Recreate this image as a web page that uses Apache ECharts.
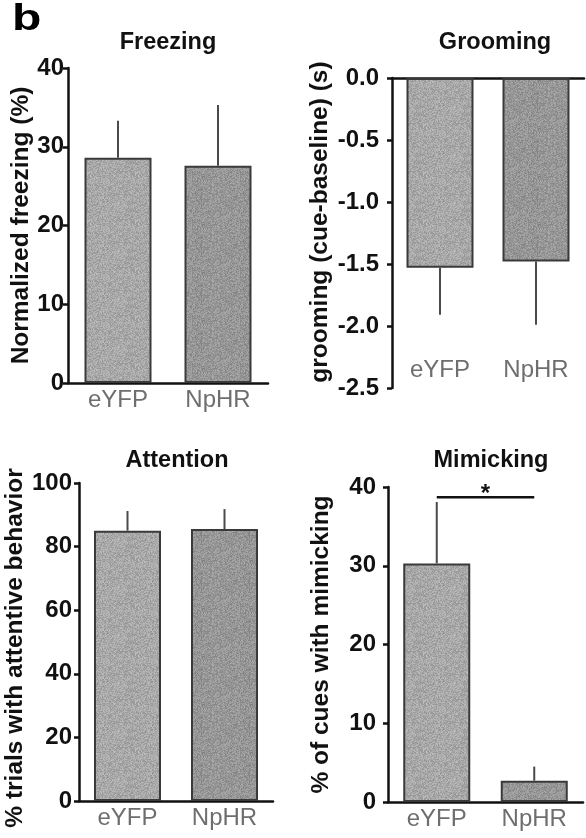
<!DOCTYPE html>
<html>
<head>
<meta charset="utf-8">
<script src="https://cdn.jsdelivr.net/npm/echarts@6/dist/echarts.min.js"></script>
<style>
  html, body { margin: 0; padding: 0; background: #fff; }
  #chart { width: 586px; height: 838px; }
</style>
</head>
<body>
<div id="chart"></div>
<script>
// Groups compared in every panel
const groups = ['eYFP', 'NpHR'];

// Freezing (%), mean and SEM
const freezingMean = [28.6, 27.6];
const freezingSem = [4.7, 7.7];

// Grooming change (cue - baseline), seconds
const groomingMean = [-1.53, -1.48];
const groomingSem = [0.38, 0.51];

// Attention (% trials with attentive behavior)
const attentionMean = [85.0, 85.5];
const attentionSem = [6.2, 6.3];

// Mimicking (% of cues)
const mimickingMean = [30.3, 2.7];
const mimickingSem = [7.8, 1.8];

// Significance bracket between the two mimicking bars
const mimickingSig = [[0, 1, 38.7, '*']];

const FONT = '"Liberation Sans", Arial, Helvetica, sans-serif';
const INK = '#111';

// Printed-halftone look for the bar fills: a small tile of deterministic grain
function grainTile(base) {
  const c = document.createElement('canvas');
  c.width = 48; c.height = 48;
  const g = c.getContext('2d');
  const img = g.createImageData(48, 48);
  let s = 12345 + base;
  for (let i = 0; i < 48 * 48; i++) {
    s = (s * 1103515245 + 12345) & 0x7fffffff;
    const d = ((s >> 8) % 41) - 20;
    const v = Math.max(0, Math.min(255, base + d));
    img.data[i * 4] = v; img.data[i * 4 + 1] = v; img.data[i * 4 + 2] = v; img.data[i * 4 + 3] = 255;
  }
  g.putImageData(img, 0, 0);
  return { image: c, repeat: 'repeat' };
}
const barFills = [grainTile(168), grainTile(150)];

function barSeries(idx, means) {
  return {
    type: 'bar',
    xAxisIndex: idx, yAxisIndex: idx,
    barWidth: 67,
    data: means.map((v, i) => ({
      value: v,
      itemStyle: { color: barFills[i], borderColor: '#3a3a3a', borderWidth: 2 }
    })),
    silent: true,
    animation: false,
    z: 2
  };
}

// One-sided SEM whisker, pointing away from zero
function errSeries(idx, means, sems) {
  return {
    type: 'custom',
    xAxisIndex: idx, yAxisIndex: idx,
    data: means.map((m, i) => [i, m, sems[i]]),
    renderItem: function (params, api) {
      const x = api.value(0), m = api.value(1), e = api.value(2);
      const dir = m < 0 ? -1 : 1;
      const p0 = api.coord([x, m]);
      const p1 = api.coord([x, m + dir * e]);
      return {
        type: 'line',
        shape: { x1: p0[0], y1: p0[1], x2: p1[0], y2: p1[1] },
        style: { stroke: '#4a4a4a', lineWidth: 2 }
      };
    },
    silent: true,
    animation: false,
    z: 3
  };
}

const grids = [
  { left: 68, top: 68, width: 200, height: 315 },
  { left: 392, top: 78, width: 192, height: 310 },
  { left: 79, top: 483, width: 194, height: 318 },
  { left: 388, top: 487, width: 195, height: 315 }
];

function yAxis(idx, cfg, namePad) {
  return Object.assign({
    type: 'value',
    gridIndex: idx,
    splitLine: { show: false },
    axisLine: { show: true, lineStyle: { color: INK, width: 2.5 } },
    axisTick: { show: true, length: 5, inside: false, lineStyle: { color: INK, width: 2.5 } },
    nameLocation: 'middle',
    nameRotate: 90,
    nameTextStyle: { fontFamily: FONT, fontSize: 24.5, fontWeight: 'bold', color: INK,
      padding: namePad || 0 }
  }, cfg);
}

function xAxis(idx, cfg) {
  return Object.assign({
    type: 'category',
    gridIndex: idx,
    data: groups,
    position: 'bottom',
    axisLine: { show: true, onZero: false, lineStyle: { color: INK, width: 2.5 } },
    axisTick: { show: false },
    splitLine: { show: false },
    axisLabel: { fontFamily: FONT, fontSize: 24, color: '#6e6e6e', margin: 5 }
  }, cfg);
}

function tickLabel(margin, fmt) {
  return {
    fontFamily: FONT, fontSize: 24, fontWeight: 'bold', color: INK, margin: margin,
    formatter: fmt
  };
}

function panelTitle(text, x, y) {
  return { type: 'text', x: x, y: y,
    style: { text: text, fontFamily: FONT, fontSize: 23.5, fontWeight: 'bold', fill: INK, align: 'center' } };
}

const option = {
  animation: false,
  backgroundColor: '#fff',
  grid: grids,
  xAxis: [
    xAxis(0, {}),
    // grooming: labels at the bottom, baseline drawn along zero at the top
    xAxis(1, { axisLine: { show: false }, offset: -32, axisLabel: { fontFamily: FONT, fontSize: 24, color: '#6e6e6e', margin: 2 } }),
    xAxis(2, {}),
    xAxis(3, {}),
    xAxis(1, { position: 'top', axisLabel: { show: false } })
  ],
  yAxis: [
    yAxis(0, { min: 0, max: 40, interval: 10, name: 'Normalized freezing (%)', nameGap: 27,
      axisLabel: tickLabel(4) }),
    yAxis(1, { min: -2.5, max: 0, interval: 0.5, name: 'grooming (cue-baseline) (s)', nameGap: 59,
      axisLabel: tickLabel(13, v => v.toFixed(1)) }, [0, 0, 0, 22]),
    yAxis(2, { min: 0, max: 100, interval: 20, name: '% trials with attentive behavior', nameGap: 43,
      axisLabel: tickLabel(7) }, [0, 12, 0, 0]),
    yAxis(3, { min: 0, max: 40, interval: 10, name: '% of cues with mimicking', nameGap: 54,
      axisLabel: tickLabel(12) })
  ],
  series: [
    barSeries(0, freezingMean), errSeries(0, freezingMean, freezingSem),
    barSeries(1, groomingMean), errSeries(1, groomingMean, groomingSem),
    barSeries(2, attentionMean), errSeries(2, attentionMean, attentionSem),
    barSeries(3, mimickingMean), errSeries(3, mimickingMean, mimickingSem),
    {
      type: 'custom',
      xAxisIndex: 3, yAxisIndex: 3,
      data: mimickingSig,
      renderItem: function (params, api) {
        const a = api.coord([api.value(0), api.value(2)]);
        const b = api.coord([api.value(1), api.value(2)]);
        return {
          type: 'group',
          children: [
            { type: 'line', shape: { x1: a[0], y1: a[1], x2: b[0], y2: b[1] },
              style: { stroke: INK, lineWidth: 2.5 } },
            { type: 'text', x: (a[0] + b[0]) / 2, y: a[1] - 15,
              style: { text: mimickingSig[params.dataIndex][3], fontFamily: FONT, fontSize: 24,
                fontWeight: 'bold', fill: INK, align: 'center', verticalAlign: 'top' } }
          ]
        };
      },
      silent: true,
      animation: false,
      z: 4
    }
  ],
  graphic: [
    { type: 'text', left: 12, top: 1, scaleX: 1.3,
      style: { text: 'b', fontFamily: FONT, fontSize: 37, fontWeight: 'bold', fill: '#000' } },
    panelTitle('Freezing', 168, 31),
    panelTitle('Grooming', 495, 31),
    panelTitle('Attention', 177, 449),
    panelTitle('Mimicking', 491, 449)
  ]
};

const chart = echarts.init(document.getElementById('chart'), null, { renderer: 'canvas' });
chart.setOption(option);
</script>
</body>
</html>
